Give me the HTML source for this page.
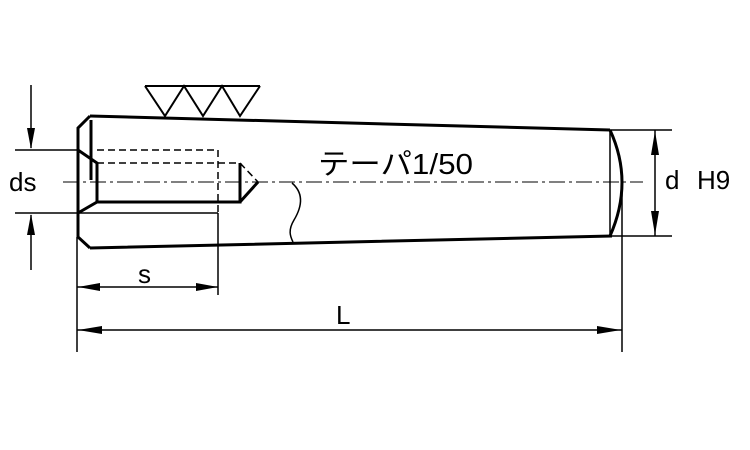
<!DOCTYPE html>
<html><head><meta charset="utf-8"><style>
html,body{margin:0;padding:0;background:#fff;}
svg{display:block;}
text{font-family:"Liberation Sans","Noto Sans CJK JP",sans-serif;fill:#000;}
</style></head><body>
<svg width="750" height="450" viewBox="0 0 750 450" xmlns="http://www.w3.org/2000/svg">
<g fill="none" stroke="#000">
<path d="M90,116 L610,130 M90,248 L612,236" stroke-width="3"/>
<path d="M90,116 L78,128 L78,237 L90,248" stroke-width="3"/>
<path d="M91,120 L91,180" stroke-width="3"/>
<path d="M610,130 Q634,182 610,236" stroke-width="3"/>
<path d="M610,130 L610,236" stroke-width="1.5"/>
<path d="M78,150 L97,163 L97,202 L78,213" stroke-width="3"/>
<path d="M97,202 L240,202 L240,163 M240,202 L258,182" stroke-width="3"/>
<path d="M97,150 L218,150 L218,213 M97,163 L240,163 L258,182" stroke-width="1.5" stroke-dasharray="7,4"/>
<path d="M63,182 L643,182" stroke-width="1" stroke-dasharray="16,4,3,4"/>
<path d="M292,183 C306,195 300,210 294,220 C288,230 290,236 293,242" stroke-width="1.5"/>
<path d="M145,86 L260,86 M145,86 L165,116 L184,86 L203,116 L222,86 L240,116 L260,86" stroke-width="2"/>
<path d="M15,150 L78,150 M15,213 L218,213 M31,85 L31,148 M31,215 L31,270" stroke-width="1.5"/>
<path d="M77,237 L77,352 M218,213 L218,295 M622,182 L622,352 M610,130 L672,130 M610,236 L672,236" stroke-width="1.5"/>
<path d="M77,287 L218,287 M77,330 L622,330 M655,130 L655,236" stroke-width="1.5"/>
</g>
<g fill="#000">
<polygon points="31,149 27,128 35,128"/>
<polygon points="31,214 27,235 35,235"/>
<polygon points="78,287 100,283 100,291"/>
<polygon points="218,287 196,283 196,291"/>
<polygon points="78,330 102,326 102,334"/>
<polygon points="621,330 597,326 597,334"/>
<polygon points="655,131 651,155 659,155"/>
<polygon points="655,235 651,211 659,211"/>
</g>
<text x="318" y="174" font-size="29" textLength="155" lengthAdjust="spacingAndGlyphs">テーパ1/50</text>
<text x="9" y="191" font-size="26">ds</text>
<text x="665" y="189" font-size="26">d</text>
<text x="697" y="189" font-size="26">H9</text>
<text x="138" y="283" font-size="26">s</text>
<text x="336" y="324" font-size="26">L</text>
</svg>
</body></html>
